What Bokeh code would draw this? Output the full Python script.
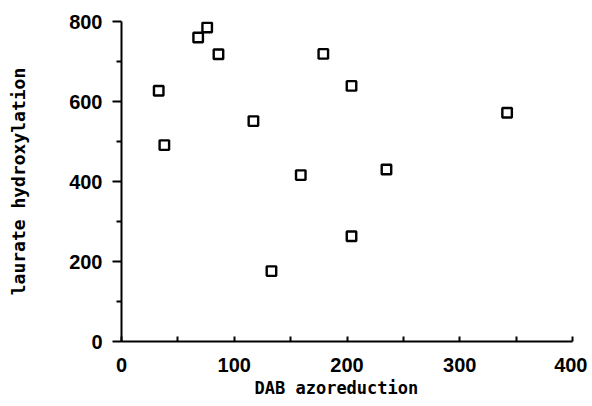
from bokeh.plotting import figure
from bokeh.models import Range1d, FixedTicker, Title
from bokeh.embed import file_html
from bokeh.resources import INLINE

# data
dab_azoreduction = [33, 38, 68, 76, 86, 117, 133, 159, 179, 204, 204, 235, 342]
laurate_hydroxylation = [627, 491, 760, 785, 718, 551, 176, 416, 719, 639, 263, 430, 572]
x_ticks = [0, 100, 200, 300, 400]
y_ticks = [0, 200, 400, 600, 800]
x_title = "DAB azoreduction"
y_title = "laurate hydroxylation"

p = figure(width=587, height=406, output_backend="svg", toolbar_location=None,
           x_range=Range1d(0, 400), y_range=Range1d(0, 800),
           min_border_left=121, min_border_right=15, min_border_top=21,
           min_border_bottom=65)
p.outline_line_color = None
p.xgrid.visible = False
p.ygrid.visible = False
p.background_fill_color = "white"
p.border_fill_color = "white"

p.scatter(dab_azoreduction, laurate_hydroxylation, marker="square", size=9.5,
          fill_color="white", line_color="black", line_width=2.4)

tick_font = "Liberation Sans"
label_font = "DejaVu Sans Mono"

xa = p.xaxis[0]
xa.ticker = FixedTicker(ticks=x_ticks, minor_ticks=[50, 150, 250, 350])
xa.major_label_text_font = tick_font
xa.major_label_text_font_style = "bold"
xa.major_label_text_font_size = "20px"
xa.major_label_text_color = "black"
xa.major_label_standoff = 16
xa.major_tick_in = 5
xa.major_tick_out = 0
xa.minor_tick_in = 5
xa.minor_tick_out = 0
xa.axis_line_width = 2
xa.major_tick_line_width = 2
xa.minor_tick_line_width = 2

# x axis title as a title below the axis (slightly left of centre, as in the reference)
p.add_layout(Title(text=x_title, align="left", offset=133, standoff=6,
                   vertical_align="top",
                   text_font=label_font, text_font_style="bold", text_font_size="17px",
                   text_color="black"), "below")

ya = p.yaxis[0]
ya.ticker = FixedTicker(ticks=y_ticks, minor_ticks=[100, 300, 500, 700])
ya.axis_label = y_title
ya.axis_label_text_font = label_font
ya.axis_label_text_font_style = "bold"
ya.axis_label_text_font_size = "18px"
ya.axis_label_text_color = "black"
ya.axis_label_standoff = 37
ya.major_label_text_font = tick_font
ya.major_label_text_font_style = "bold"
ya.major_label_text_font_size = "20px"
ya.major_label_text_color = "black"
ya.major_label_standoff = 10
ya.major_tick_in = 0
ya.major_tick_out = 9
ya.minor_tick_in = 0
ya.minor_tick_out = 5
ya.axis_line_width = 2
ya.major_tick_line_width = 2
ya.minor_tick_line_width = 2

open("out.html", "w").write(file_html(p, INLINE))
